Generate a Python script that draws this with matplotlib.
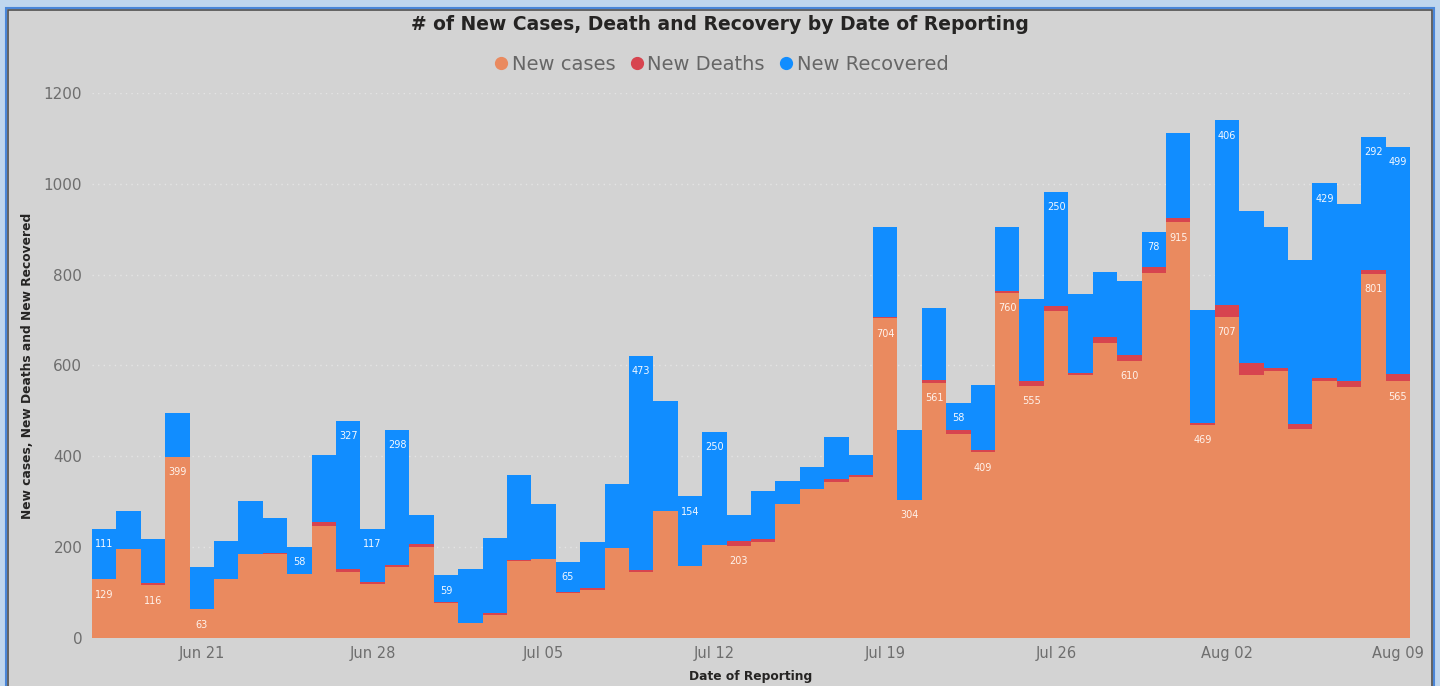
import pandas as pd
import matplotlib.pyplot as plt
from matplotlib.lines import Line2D
from matplotlib.patches import Rectangle

# daily values, Jun 17 .. Aug 09
dates = pd.date_range("2020-06-17", "2020-08-09", freq="D")

new_cases = [129, 195, 116, 399, 63, 130, 185, 185, 140, 247, 146, 119, 157, 201,
             76, 33, 50, 169, 175, 99, 106, 198, 146, 280,
             158, 204, 203, 211, 294, 329, 343, 354, 704, 304,
             561, 450, 409, 760, 555, 721, 579, 650, 610, 803, 915,
             469, 707, 580, 588, 460, 565, 552, 801, 565]
new_deaths = [0, 0, 5, 0, 0, 0, 0, 2, 2, 9, 5, 4, 3, 6,
              3, 0, 5, 3, 0, 3, 3, 0, 3, 0,
              0, 0, 11, 6, 0, 0, 8, 5, 3, 0,
              8, 9, 6, 3, 10, 11, 5, 12, 13, 13, 9,
              5, 27, 26, 6, 12, 7, 13, 10, 17]
new_recovered = [111, 85, 97, 96, 93, 84, 116, 77, 58, 146, 327, 117, 298, 64,
                 59, 119, 165, 187, 119, 65, 102, 142, 473, 242,
                 154, 250, 57, 106, 52, 47, 91, 43, 197, 155,
                 158, 58, 142, 141, 181, 250, 173, 143, 163, 78, 188,
                 248, 406, 335, 311, 361, 429, 390, 292, 499]

# days on which Power BI showed a data label
case_label_days = ["2020-06-17", "2020-06-19", "2020-06-20", "2020-06-21", "2020-07-13",
                   "2020-07-19", "2020-07-20", "2020-07-21", "2020-07-23", "2020-07-24",
                   "2020-07-25", "2020-07-29", "2020-07-31", "2020-08-01", "2020-08-02",
                   "2020-08-08", "2020-08-09"]
rec_label_days = ["2020-06-17", "2020-06-25", "2020-06-27", "2020-06-28", "2020-06-29",
                  "2020-07-01", "2020-07-06", "2020-07-09", "2020-07-11", "2020-07-12",
                  "2020-07-22", "2020-07-26", "2020-07-30", "2020-08-02", "2020-08-06",
                  "2020-08-08", "2020-08-09"]

tick_days = ["2020-06-21", "2020-06-28", "2020-07-05", "2020-07-12",
             "2020-07-19", "2020-07-26", "2020-08-02", "2020-08-09"]
tick_labels = ["Jun 21", "Jun 28", "Jul 05", "Jul 12", "Jul 19", "Jul 26", "Aug 02", "Aug 09"]

C_CASES = "#EA8A5F"
C_DEATHS = "#D7444F"
C_REC = "#118DFF"
BG = "#D3D3D3"

df = pd.DataFrame({"cases": new_cases, "deaths": new_deaths, "rec": new_recovered}, index=dates)
x = list(range(len(df)))
pos = {d: i for i, d in enumerate(dates)}

fig = plt.figure(figsize=(14.4, 6.86), dpi=100)
fig.patch.set_facecolor("#BFD6EE")
# report panel with border
fig.patches.append(Rectangle((6 / 1440, -0.01), 1428 / 1440, 1.01 - 8 / 686, transform=fig.transFigure,
                             facecolor="none", edgecolor="#4A86D8", lw=1.5, zorder=-2))
fig.patches.append(Rectangle((8 / 1440, -0.01), 1424 / 1440, 1.01 - 10 / 686, transform=fig.transFigure,
                             facecolor=BG, edgecolor="#505050", lw=1.2, zorder=-1))

ax = fig.add_axes([92 / 1440, 48 / 686, 1318 / 1440, 545 / 686])
ax.set_facecolor(BG)
ax.set_zorder(1)

cases = df["cases"].to_numpy()
deaths = df["deaths"].to_numpy()
rec = df["rec"].to_numpy()
ax.bar(x, cases, width=1.0, color=C_CASES, lw=0, zorder=2)
ax.bar(x, deaths, width=1.0, bottom=cases, color=C_DEATHS, lw=0, zorder=2)
ax.bar(x, rec, width=1.0, bottom=cases + deaths, color=C_REC, lw=0, zorder=2)

# data labels just inside the top of each labelled segment
for d in case_label_days:
    i = pos[pd.Timestamp(d)]
    ax.annotate(str(cases[i]), (i, cases[i]), xytext=(0, -11), textcoords="offset points",
                ha="center", va="center", fontsize=7, color="#FFF3EC", zorder=3)
for d in rec_label_days:
    i = pos[pd.Timestamp(d)]
    top = cases[i] + deaths[i] + rec[i]
    ax.annotate(str(rec[i]), (i, top), xytext=(0, -11), textcoords="offset points",
                ha="center", va="center", fontsize=7, color="#F2F8FF", zorder=3)

ax.set_xlim(-0.5, len(x) - 0.5)
ax.set_ylim(0, 1200)
ax.set_yticks(range(0, 1201, 200))
ax.set_xticks([pos[pd.Timestamp(d)] for d in tick_days])
ax.set_xticklabels(tick_labels)
ax.tick_params(axis="both", length=0, colors="#6E6E6E", labelsize=11)
ax.tick_params(axis="x", labelsize=10.5, pad=6)
ax.tick_params(axis="y", pad=7)
for s in ax.spines.values():
    s.set_visible(False)
ax.yaxis.grid(True, color="#E4E4E4", linestyle=(0, (1, 3)), lw=1, zorder=1)
ax.set_axisbelow(True)

ax.set_xlabel("Date of Reporting", fontsize=8.8, fontweight="bold", color="#252423", labelpad=6)
ax.set_ylabel("New cases, New Deaths and New Recovered", fontsize=8.8, fontweight="bold",
              color="#252423", labelpad=7)

fig.text(0.5, 1 - 25 / 686, "# of New Cases, Death and Recovery by Date of Reporting",
         ha="center", va="center", fontsize=13.5, fontweight="bold", color="#252423")

handles = [Line2D([], [], marker="o", ls="", color=c, markersize=8.5)
           for c in (C_CASES, C_DEATHS, C_REC)]
fig.legend(handles, ["New cases", "New Deaths", "New Recovered"], loc="center",
           bbox_to_anchor=(0.5, 1 - 64 / 686), ncol=3, frameon=False, fontsize=14,
           labelcolor="#666666", handletextpad=0.05, columnspacing=0.6, handlelength=1.0)

fig.savefig("out.png", dpi=100, facecolor=fig.get_facecolor())
